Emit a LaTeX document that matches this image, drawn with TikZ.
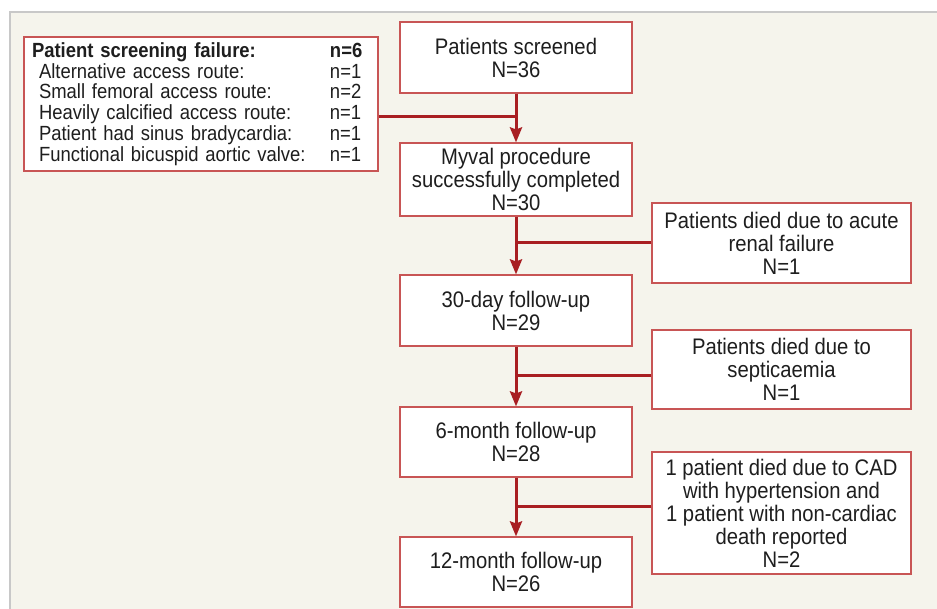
\documentclass[tikz,border=0pt]{standalone}
\usepackage{fontspec}
\setmainfont{Liberation Sans}[FakeStretch=0.9]
\usetikzlibrary{arrows.meta}
\definecolor{panelbg}{RGB}{245,244,236}
\definecolor{panelrule}{RGB}{200,200,200}
\definecolor{boxred}{RGB}{200,85,85}
\definecolor{linkred}{RGB}{168,30,34}
\definecolor{inktext}{RGB}{30,30,30}

\begin{document}
\begin{tikzpicture}[x=1pt,y=-1pt]
\tikzstyle{every node}+=[inner sep=0pt]
\tikzstyle{box}=[draw=boxred, line width=1.2pt, fill=white, text=inktext, align=center, font=\fontsize{22.5}{23}\selectfont]
\tikzstyle{stage}=[box, minimum width=232pt, minimum height=71pt]
\tikzstyle{death}=[box, minimum width=259pt]
\tikzstyle{link}=[draw=linkred, line width=3pt]
\tikzstyle{flow}=[link, -{Stealth[length=15pt,width=12pt,inset=2pt]}]
\useasboundingbox (0,0) rectangle (937,609);
\fill [panelbg] (10,12) rectangle (937,609);
\draw [panelrule, line width=1.5pt] (10,609) -- (10,12) -- (937,12);
\node [box, align=left, text width=338pt, inner xsep=8pt, minimum height=134pt, font=\fontsize{20.5}{20.7}\selectfont] (fail) at (201,104)
  {\textbf{\makebox[298pt][l]{Patient screening failure:}n=6}\\
   \hspace*{7pt}\makebox[291pt][l]{Alternative access route:}n=1\\
   \hspace*{7pt}\makebox[291pt][l]{Small femoral access route:}n=2\\
   \hspace*{7pt}\makebox[291pt][l]{Heavily calcified access route:}n=1\\
   \hspace*{7pt}\makebox[291pt][l]{Patient had sinus bradycardia:}n=1\\
   \hspace*{7pt}\makebox[291pt][l]{Functional bicuspid aortic valve:}n=1};
\node [stage] (screened) at (516,57.5) {Patients screened\\N=36};
\node [stage, minimum height=73pt] (myval) at (516,179.5) {Myval procedure\\successfully completed\\N=30};
\node [stage] (day30) at (516,310.5) {30-day follow-up\\N=29};
\node [stage, minimum height=70pt] (month6) at (516,442) {6-month follow-up\\N=28};
\node [stage, minimum height=70pt] (month12) at (516,572) {12-month follow-up\\N=26};
\node [death, minimum height=80pt] (renal) at (781.5,243) {Patients died due to acute\\renal failure\\N=1};
\node [death, minimum height=79pt] (septic) at (781.5,369.5) {Patients died due to\\septicaemia\\N=1};
\node [death, minimum height=122pt] (cad) at (781.5,513) {1 patient died due to CAD\\with hypertension and\\1 patient with non-cardiac\\death reported\\N=2};
\coordinate (j1) at (516,117);
\coordinate (j3) at (516,376);
\coordinate (j4) at (516,506);
\draw [link] (j1 -| fail.east) -- (j1);
\draw [link] (renal.west) -- (renal.west -| myval.south);
\draw [link] (j3 -| septic.west) -- (j3);
\draw [link] (j4 -| cad.west) -- (j4);
\draw [flow] (screened) -- (myval);
\draw [flow] (myval) -- (day30);
\draw [flow] (day30) -- (month6);
\draw [flow] (month6) -- (month12);
\end{tikzpicture}
\end{document}
